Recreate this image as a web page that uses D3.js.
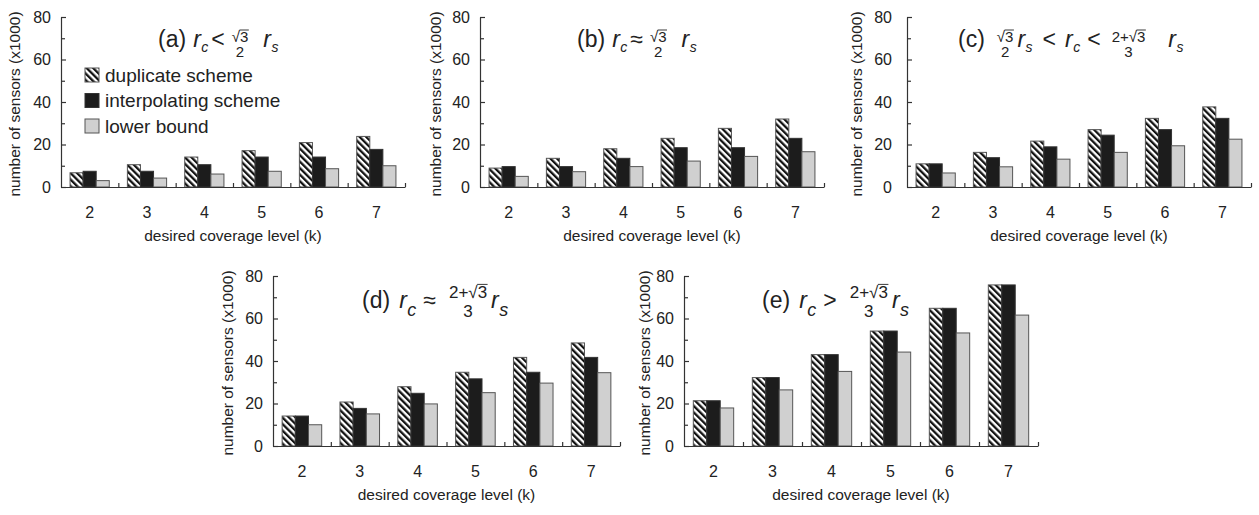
<!DOCTYPE html>
<html>
<head>
<meta charset="utf-8">
<script src="https://cdn.jsdelivr.net/npm/d3@7"></script>
<style>
body{margin:0;background:#fff}
text{font-family:"Liberation Sans",Arial,Helvetica,sans-serif;fill:#222}
</style>
</head>
<body>
<svg id="chart"></svg>
<script>
//categories and tick labels
var levels = ["2","3","4","5","6","7"]
var schemes = ["duplicate scheme","interpolating scheme","lower bound"]
var yTicks = [0,20,40,60,80]
var yMinorTicks = [10,30,50,70]

//values, in thousands of sensors
var dupA = [6.7,10.5,14.1,17.1,20.9,23.8]
var intA = [7.4,7.4,10.5,14.1,14.1,17.7]
var lowA = [3.0,4.2,6.1,7.4,8.6,10.0]

var dupB = [8.9,13.5,18.0,22.9,27.6,32.0]
var intB = [9.6,9.6,13.5,18.5,18.5,22.9]
var lowB = [5.0,7.2,9.6,12.2,14.4,16.6]

var dupC = [10.9,16.3,21.6,27.0,32.3,37.7]
var intC = [10.9,13.8,18.9,24.4,27.0,32.3]
var lowC = [6.6,9.5,13.1,16.3,19.4,22.5]

var dupD = [14.1,20.7,27.9,34.7,41.7,48.5]
var intD = [14.1,17.7,24.8,31.6,34.7,41.7]
var lowD = [10.0,15.1,19.8,25.1,29.6,34.5]

var dupE = [21.3,32.2,43.0,54.1,64.8,75.8]
var intE = [21.3,32.2,43.0,54.1,64.8,75.8]
var lowE = [17.9,26.4,35.1,44.2,53.2,61.6]

//title pieces: t = plain text, v = italic variable with subscript, f = fraction, g = gap
var titleA = [["t","(a)"],["g",7],["v","r","c"],["g",3],["t","<"],["g",7],["f","√3","2"],["g",15],["v","r","s"]]
var titleB = [["t","(b)"],["g",7],["v","r","c"],["g",3],["t","≈"],["g",7],["f","√3","2"],["g",15],["v","r","s"]]
var titleC = [["t","(c)"],["g",12],["f","√3","2"],["g",4],["v","r","s"],["g",10],["t","<"],["g",9],["v","r","c"],["g",7],["t","<"],["g",11],["f","2+√3","3"],["g",23],["v","r","s"]]
var titleD = [["t","(d)"],["g",9],["v","r","c"],["g",7],["t","≈"],["g",13],["f","2+√3","3"],["g",4],["v","r","s"]]
var titleE = [["t","(e)"],["g",9],["v","r","c"],["g",7],["t",">"],["g",13],["f","2+√3","3"],["g",4],["v","r","s"]]

var screen = {width:1259,height:515}

var svg = d3.select("#chart")
    .attr("width",screen.width)
    .attr("height",screen.height)

//title typesetting for each row of panels
var topRowType = {subFs:14,subDy:5,fracFs:15,num:-5,den:9.5}
var lowRowType = {subFs:18,subDy:8,fracFs:17,num:-10,den:9}

var panels = [
    {series:[dupA,intA,lowA],title:titleA,left:61,right:405,top:17,bottom:187,tickPad:10,yTitleX:20,titleX:158,titleY:47,type:topRowType,legend:true},
    {series:[dupB,intB,lowB],title:titleB,left:480,right:824,top:17,bottom:187,tickPad:10,yTitleX:441,titleX:577,titleY:47,type:topRowType},
    {series:[dupC,intC,lowC],title:titleC,left:907,right:1251,top:17,bottom:187,tickPad:15,yTitleX:862,titleX:958,titleY:47,type:topRowType},
    {series:[dupD,intD,lowD],title:titleD,left:273,right:620,top:276,bottom:446,tickPad:10,yTitleX:233,titleX:362,titleY:308,type:lowRowType},
    {series:[dupE,intE,lowE],title:titleE,left:684,right:1038,top:276,bottom:446,tickPad:10,yTitleX:650,titleX:762,titleY:308,type:lowRowType}
]

var defs = svg.append("defs")
defs.append("pattern")
    .attr("id","hatch")
    .attr("patternUnits","userSpaceOnUse")
    .attr("width",4.6)
    .attr("height",4.6)
    .attr("patternTransform","rotate(-45)")
    .call(function(p)
    {
        p.append("rect").attr("width",4.6).attr("height",4.6).attr("fill","#fff")
        p.append("rect").attr("width",2.3).attr("height",4.6).attr("fill","#111")
    })

var fills = ["url(#hatch)","#1c1c1c","#d0d0d0"]
var strokes = ["#555","#333","#555"]

//writes the title formula piece by piece
var drawTitle = function(g,parts,x,y,type)
{
    var cx = x
    parts.forEach(function(p)
    {
        if(p[0]=="g") { cx += p[1]; return }
        if(p[0]=="t")
        {
            var t = g.append("text").attr("x",cx).attr("y",y)
                     .style("font-size","23px").text(p[1])
            cx += t.node().getComputedTextLength()
        }
        else if(p[0]=="v")
        {
            var r = g.append("text").attr("x",cx).attr("y",y)
                     .style("font-size","23px").style("font-style","italic").text(p[1])
            cx += r.node().getComputedTextLength()+0.5
            var s = g.append("text").attr("x",cx).attr("y",y+type.subDy)
                     .style("font-size",type.subFs+"px").style("font-style","italic").text(p[2])
            cx += s.node().getComputedTextLength()
        }
        else if(p[0]=="f")
        {
            var fs = type.fracFs
            var num = g.append("text").attr("y",y+type.num).style("font-size",fs+"px").text(p[1])
            var den = g.append("text").attr("y",y+type.den).style("font-size",fs+"px").text(p[2])
            var wn = num.node().getComputedTextLength()
            var wd = den.node().getComputedTextLength()
            var w = Math.max(wn,wd)
            num.attr("x",cx+(w-wn)/2)
            den.attr("x",cx+(w-wd)/2)
            var k = p[1].indexOf("√")
            var start = cx+(w-wn)/2+num.node().getSubStringLength(0,k+1)-0.5
            g.append("line")
             .attr("x1",start).attr("x2",cx+(w+wn)/2+0.5)
             .attr("y1",y+type.num-fs*0.8).attr("y2",y+type.num-fs*0.8)
             .attr("stroke","#222").attr("stroke-width",0.9)
            cx += w
        }
    })
}

var drawPanel = function(panel)
{
    var g = svg.append("g")

    var x0 = d3.scaleBand()
        .domain(levels)
        .range([panel.left,panel.right])
        .paddingInner(0.316)
        .paddingOuter(0.158)

    var x1 = d3.scaleBand()
        .domain([0,1,2])
        .range([0,x0.bandwidth()])

    var xb = d3.scaleLinear()
        .domain([0,levels.length])
        .range([panel.left,panel.right])

    var yScale = d3.scaleLinear()
        .domain([0,80])
        .range([panel.bottom,panel.top])

    //bars
    panel.series.forEach(function(values,si)
    {
        g.append("g")
         .selectAll("rect")
         .data(values)
         .enter()
         .append("rect")
         .attr("x",function(v,i){return x0(levels[i])+x1(si)})
         .attr("y",function(v){return yScale(v)})
         .attr("width",x1.bandwidth())
         .attr("height",function(v){return panel.bottom-yScale(v)})
         .attr("fill",fills[si])
         .attr("stroke",strokes[si])
         .attr("stroke-width",1)
    })

    //y axis, ticks point inward
    var yAxis = d3.axisLeft(yScale)
        .tickValues(yTicks)
        .tickSizeInner(-5)
        .tickSizeOuter(0)
        .tickPadding(panel.tickPad)
    var ya = g.append("g")
        .attr("transform","translate("+panel.left+",0)")
        .call(yAxis)
    ya.selectAll("text").style("font-size","16px").attr("fill","#222")

    var yMinor = d3.axisLeft(yScale)
        .tickValues(yMinorTicks)
        .tickSizeInner(-4)
        .tickSizeOuter(0)
        .tickFormat("")
    g.append("g")
     .attr("transform","translate("+panel.left+",0)")
     .call(yMinor)
     .select(".domain").remove()

    //x axis: labels at band centres, ticks at band edges
    var xAxis = d3.axisBottom(x0)
        .tickSize(0)
        .tickPadding(20)
    var xa = g.append("g")
        .attr("transform","translate(0,"+panel.bottom+")")
        .call(xAxis)
    xa.selectAll("text").style("font-size","16px").attr("fill","#222")

    var xEdges = d3.axisBottom(xb)
        .tickValues(d3.range(1,levels.length+1))
        .tickSizeInner(-4)
        .tickSizeOuter(0)
        .tickFormat("")
    g.append("g")
     .attr("transform","translate(0,"+panel.bottom+")")
     .call(xEdges)
     .select(".domain").remove()

    g.selectAll(".domain, .tick line").attr("stroke","#333").attr("stroke-width",1.2)

    //axis titles
    g.append("text")
     .text("desired coverage level (k)")
     .attr("text-anchor","middle")
     .attr("x",(panel.left+panel.right)/2)
     .attr("y",panel.bottom+54)
     .style("font-size","15.5px")

    g.append("text")
     .text("number of sensors (x1000)")
     .attr("text-anchor","middle")
     .attr("transform","translate("+panel.yTitleX+","+((panel.top+panel.bottom)/2+2)+") rotate(-90)")
     .style("font-size","15.5px")

    drawTitle(g,panel.title,panel.titleX,panel.titleY,panel.type)

    if(panel.legend)
    {
        var legend = g.append("g")
            .attr("transform","translate("+(panel.left+24)+","+(panel.top+51)+")")
        var entries = legend.selectAll("g")
            .data(schemes)
            .enter()
            .append("g")
            .attr("transform",function(d,i){return "translate(0,"+(i*25.5)+")"})
        entries.append("rect")
            .attr("width",14)
            .attr("height",14)
            .attr("fill",function(d,i){return fills[i]})
            .attr("stroke",function(d,i){return strokes[i]})
        entries.append("text")
            .text(function(d){return d})
            .attr("x",20)
            .attr("y",13.5)
            .style("font-size","19px")
    }
}

panels.forEach(drawPanel)
</script>
</body>
</html>
